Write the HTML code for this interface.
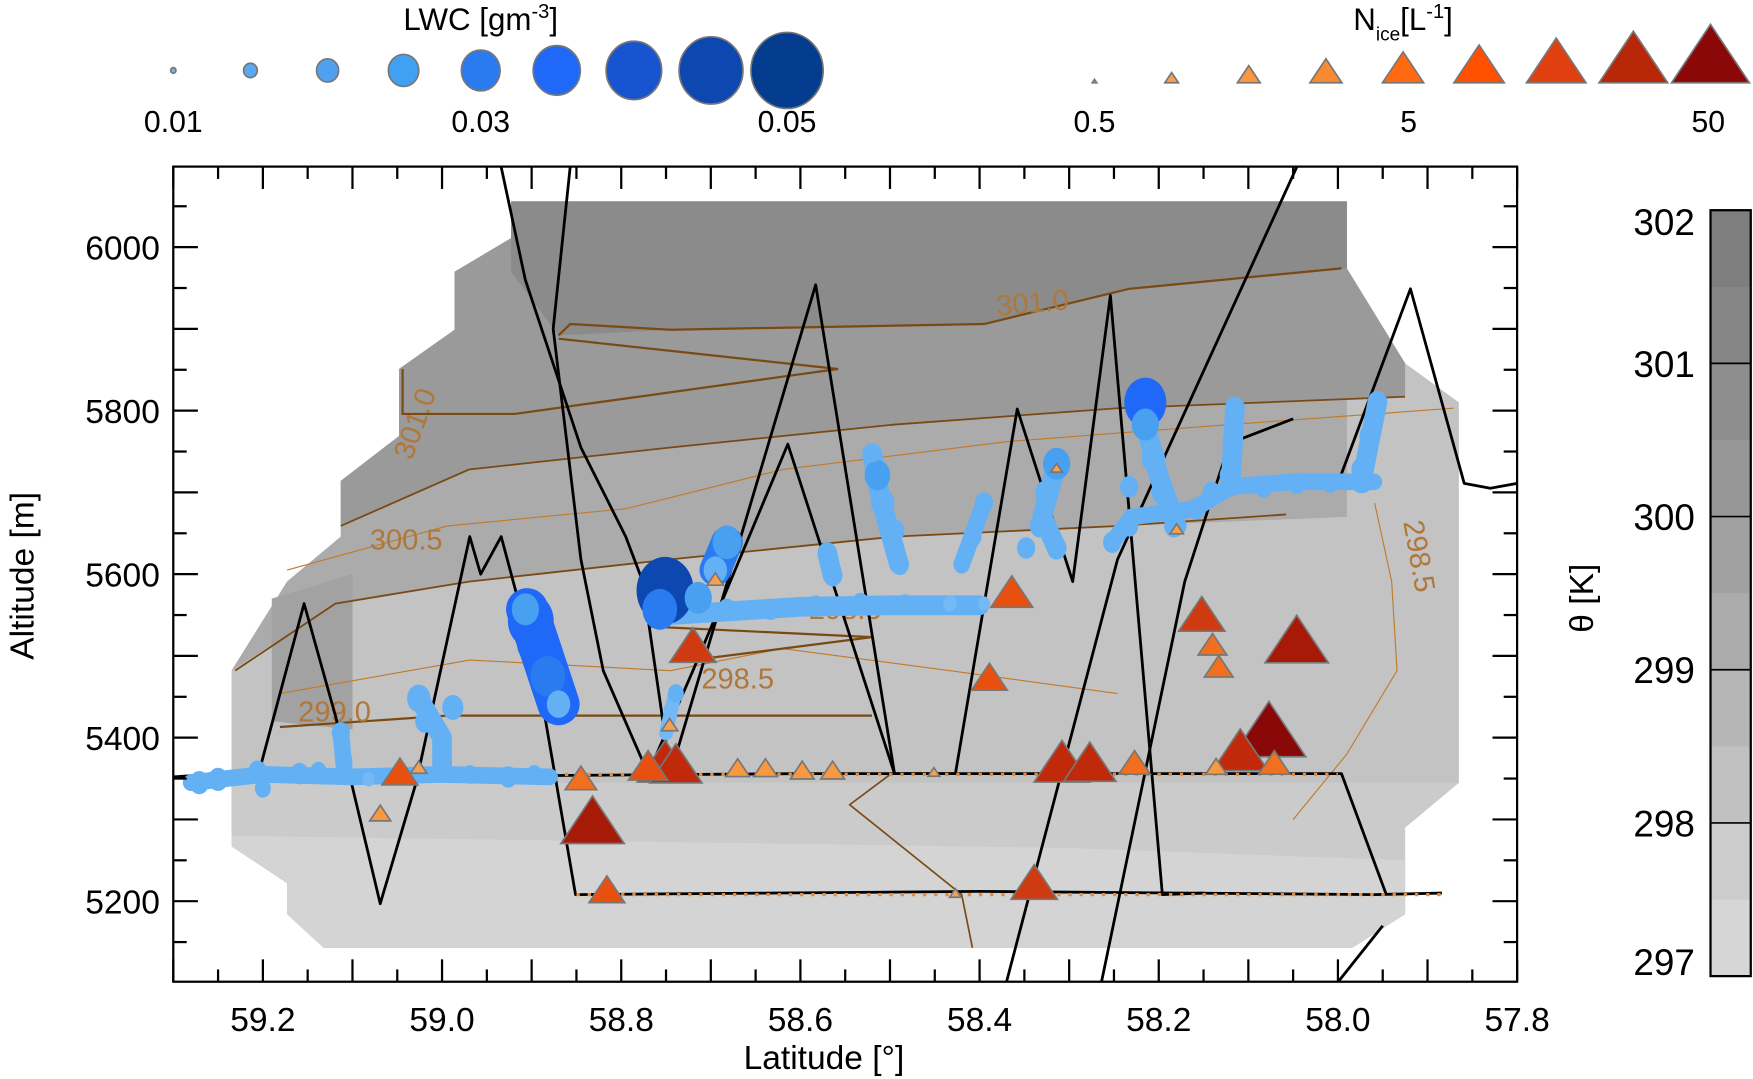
<!DOCTYPE html>
<html><head><meta charset="utf-8"><style>
html,body{margin:0;padding:0;background:#fff;}
svg{display:block;font-family:"Liberation Sans",sans-serif;}
</style></head><body>
<svg id="chart" width="1753" height="1079" viewBox="0 0 1568 965" preserveAspectRatio="none" xmlns="http://www.w3.org/2000/svg">
<g id="bg"></g>
<g id="contours"></g>
<g id="tracks"></g>
<g id="circles"></g>
<g id="tris"></g>
<g id="axes"></g>
<g id="legend"></g>
<g id="cbar"></g>
</svg>
<script>
// ---- data ----
const latTicks=[59.2,59.0,58.8,58.6,58.4,58.2,58.0,57.8];
const altTicks=[5200,5400,5600,5800,6000];
const cbLevels=[302,301,300,299,298,297];
const cbColors=['#7e7e7e','#868686','#8e8e8e','#979797','#a1a1a1','#ababab','#b6b6b6','#c1c1c1','#cccccc','#d6d6d6'];
const lwcLegend=[0.01,0.015,0.02,0.025,0.03,0.035,0.04,0.045,0.05];
const lwcLegendLabels=['0.01','0.03','0.05'];
const niceLegend=[0.5,0.9,1.6,2.8,5,9,16,28,50];
const niceLegendLabels=['0.5','5','50'];

const domainLat=[59.235,59.235,59.173,59.173,59.132,57.984,57.925,57.925,57.865,57.865,57.925,57.990,57.990,58.923,58.923,58.986,58.986,59.048,59.048,59.113,59.113,59.173,59.235];
const domainAlt=[5475,5267,5222,5184,5143,5143,5184,5290,5345,5810,5858,5974,6056,6056,6011,5970,5899,5851,5769,5714,5646,5591,5482];
const lowLat=[59.235,57.865,57.925,57.925,57.984,59.132,59.173,59.173,59.235];
const lowAlt=[5345,5345,5290,5184,5143,5143,5184,5222,5267];
const lowestLat=[59.235,58.60,58.30,57.925,57.925,57.984,59.132,59.173,59.173,59.235];
const lowestAlt=[5280,5270,5265,5250,5184,5143,5143,5184,5222,5267];
const up1Lat=[59.235,59.119,58.969,58.745,58.495,58.246,57.99,57.99,57.925,57.990,57.990,58.923,58.923,58.986,58.986,59.048,59.048,59.113,59.113,59.173];
const up1Alt=[5482,5564,5591,5618,5646,5659,5670,5820,5858,5974,6056,6056,6011,5970,5899,5851,5769,5714,5646,5591];
const up2Lat=[59.113,58.970,58.745,58.495,58.246,57.925,57.925,57.990,57.990,58.923,58.923,58.986,58.986,59.048,59.048,59.113];
const up2Alt=[5659,5728,5755,5783,5803,5817,5858,5974,6056,6056,6011,5970,5899,5851,5769,5714];
const up3Lat=[58.923,58.870,58.745,58.395,58.233,57.990,57.990,58.923];
const up3Alt=[5970,5892,5899,5906,5949,5974,6056,6056];
const leftDarkLat=[59.19,59.10,59.10,59.19];
const leftDarkAlt=[5570,5600,5410,5420];

const contourSets=[
 {lat:[58.870,58.857,58.745,58.395,58.233,57.996],alt:[5892,5906,5899,5906,5949,5974],c:'#7a4a14',w:2},
 {lat:[58.870,58.558,58.919,59.044,59.044],alt:[5888,5851,5796,5796,5851],c:'#7a4a14',w:2},
 {lat:[59.113,58.970,58.745,58.495,58.246,57.925],alt:[5659,5728,5755,5783,5803,5817],c:'#7a4a14',w:1.6},
 {lat:[59.173,58.994,58.795,58.620,58.370,58.121,57.871],alt:[5605,5659,5680,5728,5762,5783,5803],c:'#c07a28',w:1},
 {lat:[59.231,59.119,58.969,58.745,58.495,58.246,58.058],alt:[5482,5564,5591,5618,5646,5659,5673],c:'#7a4a14',w:1.6},
 {lat:[59.181,58.969,58.745,58.620,58.433,58.246],alt:[5454,5495,5482,5509,5482,5454],c:'#c07a28',w:1},
 {lat:[58.770,58.520,58.720],alt:[5536,5523,5495],c:'#7a4a14',w:2},
 {lat:[59.181,58.994,58.870,58.520],alt:[5413,5427,5427,5427],c:'#7a4a14',w:2},
 {lat:[58.495,58.545,58.420,58.408],alt:[5359,5318,5208,5143],c:'#7a4a14',w:1.5},
 {lat:[57.959,57.940,57.934,57.99,58.05],alt:[5687,5591,5482,5380,5300],c:'#c07a28',w:1}
];
const contourLabels=[
 {t:'301.0',lat:58.34,alt:5920,r:-5},{t:'301.0',lat:59.02,alt:5780,r:-70},
 {t:'300.5',lat:59.04,alt:5630,r:0},{t:'298.5',lat:58.67,alt:5460,r:0},
 {t:'298.5',lat:57.92,alt:5620,r:80},{t:'299.0',lat:59.12,alt:5420,r:0},{t:'298.5',lat:58.55,alt:5545,r:0}
];

const track1Lat=[59.30,59.204,59.154,59.119,59.069,59.029,58.969,58.957,58.934,58.894,58.851,58.40,57.959,57.884];
const track1Alt=[5352,5359,5564,5427,5197,5345,5646,5600,5646,5482,5208,5212,5208,5210];
const track2Lat=[59.069,58.60,58.00,57.996,57.946];
const track2Alt=[5352,5356,5356,5356,5208];
const track3Lat=[58.934,58.907,58.845,58.795,58.776,58.745,58.583,58.495,58.427,58.358,58.296,58.254,58.196,58.15];
const track3Alt=[6098,5960,5755,5646,5591,5356,5954,5356,5356,5802,5591,5941,5208,5210];
const track4Lat=[58.857,58.876,58.845,58.820,58.770,58.720,58.614,58.495];
const track4Alt=[6098,5900,5618,5482,5356,5482,5759,5356];
const track5Lat=[58.370,58.246,58.046];
const track5Alt=[5101,5618,6098];
const track6Lat=[58.264,58.171,58.121,58.05];
const track6Alt=[5101,5591,5760,5790];
const track7Lat=[58.00,57.919,57.859,57.83,57.80];
const track7Alt=[5711,5949,5711,5705,5711];
const track8Lat=[58.0,57.95];
const track8Alt=[5101,5170];

// cloud trails (measured LWC segments): lat, alt, lwc
const trails=[
 {lat:[59.28,59.20,59.10,59.00,58.88],alt:[5345,5355,5352,5355,5352],lwc:0.018},
 {lat:[58.745,58.60,58.50,58.40],alt:[5550,5560,5562,5562],lwc:0.02},
 {lat:[58.12,58.05,57.96],alt:[5707,5713,5713],lwc:0.018},
 {lat:[58.52,58.51,58.49],alt:[5748,5690,5612],lwc:0.02},
 {lat:[58.395,58.42],alt:[5687,5612],lwc:0.018},
 {lat:[58.314,58.33,58.314],alt:[5735,5670,5632],lwc:0.02},
 {lat:[58.215,58.20,58.18],alt:[5783,5720,5659],lwc:0.02},
 {lat:[58.252,58.23,58.16,58.12],alt:[5639,5670,5680,5707],lwc:0.018},
 {lat:[58.115,58.12],alt:[5803,5707],lwc:0.02},
 {lat:[57.956,57.974],alt:[5810,5711],lwc:0.02},
 {lat:[59.113,59.109],alt:[5406,5360],lwc:0.018},
 {lat:[59.026,59.0,59.0],alt:[5448,5400,5360],lwc:0.02},
 {lat:[58.905,58.87],alt:[5557,5441],lwc:0.035},
 {lat:[58.74,58.75],alt:[5454,5405],lwc:0.016},
 {lat:[58.695,58.682],alt:[5605,5639],lwc:0.028},
 {lat:[58.57,58.564],alt:[5625,5598],lwc:0.02}
];

const cLat=[59.271,59.250,59.206,59.200,59.159,59.138,59.113,59.109,59.082,59.026,58.988,59.019,59.001,59.001,58.969,58.926,58.897,58.907,58.901,58.895,58.882,58.870,58.751,58.757,58.714,58.682,58.695,58.682,58.633,58.583,58.533,58.483,58.433,58.395,58.739,58.745,58.570,58.564,58.520,58.514,58.508,58.495,58.489,58.395,58.408,58.420,58.314,58.327,58.333,58.314,58.348,58.215,58.215,58.206,58.196,58.183,58.233,58.252,58.233,58.158,58.141,58.115,58.118,58.121,58.083,58.046,58.009,57.971,57.956,57.965,57.974];
const cAlt=[5345,5349,5359,5338,5356,5359,5406,5372,5349,5448,5437,5420,5393,5359,5355,5352,5355,5557,5543,5516,5475,5441,5580,5557,5571,5639,5605,5557,5557,5561,5564,5564,5564,5564,5454,5434,5625,5598,5748,5721,5687,5653,5612,5687,5646,5612,5735,5700,5659,5632,5632,5810,5783,5741,5700,5659,5707,5639,5659,5680,5700,5803,5762,5721,5707,5711,5711,5711,5810,5769,5728];
const cLwc=[0.020,0.020,0.019,0.0175,0.019,0.0175,0.019,0.0175,0.015,0.0225,0.021,0.020,0.0175,0.019,0.0175,0.019,0.0175,0.025,0.0375,0.0325,0.030,0.0225,0.045,0.030,0.025,0.026,0.0225,0.019,0.019,0.019,0.019,0.0175,0.016,0.015,0.0175,0.016,0.020,0.019,0.0175,0.024,0.0225,0.020,0.019,0.019,0.019,0.0175,0.025,0.020,0.020,0.020,0.019,0.035,0.025,0.0225,0.021,0.020,0.019,0.019,0.019,0.019,0.019,0.020,0.020,0.020,0.019,0.019,0.0175,0.0175,0.020,0.020,0.020];

const tLat=[59.047,59.026,58.845,58.832,58.816,58.720,58.751,58.739,58.770,58.670,58.639,58.598,58.564,58.364,58.389,58.308,58.277,58.227,58.314,58.152,58.140,58.133,58.046,58.077,58.109,58.071,58.339,58.136,58.180,58.695,58.451,58.427,58.746,59.069];
const tAlt=[5352,5361,5345,5288,5208,5505,5361,5359,5359,5359,5359,5356,5356,5571,5468,5361,5361,5364,5728,5543,5509,5482,5509,5397,5375,5364,5215,5361,5653,5591,5356,5208,5413,5304];
const tNice=[4,1.1,3,25,4,8,15,12,5,1.8,1.8,1.8,1.8,6,4,15,12,3,0.8,8,2.5,2.5,25,50,15,3,8,1.5,0.9,1.1,0.8,0.8,1.1,1.5];

// ---- scales ----
const L=155,R=1357,T=149,B=878;
function X(lat){return L+(59.3-lat)/1.5*(R-L);}
function Y(alt){return B-(alt-5101.5)/(6098.5-5101.5)*(B-T);}
const NS='http://www.w3.org/2000/svg';
function mk(tag,parent,attrs){const e=document.createElementNS(NS,tag);for(const k in attrs)e.setAttribute(k,attrs[k]);parent.appendChild(e);return e;}
function pts(la,al){return la.map((v,i)=>X(v).toFixed(1)+','+Y(al[i]).toFixed(1)).join(' ');}
const svg=document.getElementById('chart');
const defs=mk('defs',svg,{});
const cp=mk('clipPath',defs,{id:'clip'});
mk('rect',cp,{x:L,y:T,width:R-L,height:B-T});
['bg','contours','tracks','circles','tris'].forEach(id=>document.getElementById(id).setAttribute('clip-path','url(#clip)'));

const bg=document.getElementById('bg');
[['domain','#c3c3c3',domainLat,domainAlt],['band-low','#cbcbcb',lowLat,lowAlt],['band-lowest','#d4d4d4',lowestLat,lowestAlt],
 ['band-up1','#ababab',up1Lat,up1Alt],['band-up2','#9a9a9a',up2Lat,up2Alt],['band-up3','#8b8b8b',up3Lat,up3Alt],['band-left-dark','#a2a2a2',leftDarkLat,leftDarkAlt]].forEach(b=>{
 const p=mk('polygon',bg,{points:pts(b[2],b[3]),fill:b[1]});
 
 
});
const cg=document.getElementById('contours');
contourSets.forEach(c=>{
 const p=mk('polyline',cg,{points:pts(c.lat,c.alt),fill:'none',stroke:c.c,'stroke-width':c.w});
 
 
});
contourLabels.forEach(c=>{
 const t=mk('text',cg,{x:X(c.lat),y:Y(c.alt),'font-size':26,fill:'#b0773a','text-anchor':'middle',transform:`rotate(${c.r} ${X(c.lat)} ${Y(c.alt)})`});
 t.textContent=c.t;
 
 
});
const tg=document.getElementById('tracks');
[[track1Lat,track1Alt],[track2Lat,track2Alt],[track3Lat,track3Alt],[track4Lat,track4Alt],[track5Lat,track5Alt],[track6Lat,track6Alt],[track7Lat,track7Alt],[track8Lat,track8Alt]].forEach(t=>{
 const p=mk('polyline',tg,{points:pts(t[0],t[1]),fill:'none',stroke:'#000','stroke-width':2.5,'stroke-linejoin':'round'});
 
 
});
[[[59.05,58.0],[5355,5355]],[[58.85,57.88],[5208,5208]]].forEach(t=>{
 const p=mk('polyline',tg,{points:pts(t[0],t[1]),fill:'none',stroke:'#f08a30','stroke-width':3,'stroke-dasharray':'3 7'});
 
 
});
const blues=['#80bcf4','#74b8f6','#64b0f4','#48a0f0','#2a7af0','#2068f8','#1854d0','#0c48b0','#043c90'];
function lwcR(v){return 2.5+(v-0.01)/0.04*31.5;}
function lwcC(v){let i=Math.round((v-0.01)/0.005);i=Math.max(0,Math.min(8,i));return blues[i];}
const reds=['#ffb060','#f8a050','#f89840','#f07020','#e85010','#d03a10','#c02a0a','#a81a08','#8a0808'];
function nH(v){const l=Math.log10(v);return 2+(l+0.301)/2*31;}
function nC(v){let i=Math.round((Math.log10(v)+0.301)/2*8);i=Math.max(0,Math.min(8,i));return reds[i];}
const cc=document.getElementById('circles');
trails.forEach(t=>{
 const p=mk('polyline',cc,{points:pts(t.lat,t.alt),fill:'none',stroke:lwcC(t.lwc),'stroke-width':lwcR(t.lwc)*1.7,'stroke-linecap':'round','stroke-linejoin':'round'});
 
 
});
const order=cLat.map((_,i)=>i).sort((a,b)=>cLwc[b]-cLwc[a]);
order.forEach(i=>{
 const r=lwcR(cLwc[i]);
 const e=mk('ellipse',cc,{cx:X(cLat[i]),cy:Y(cAlt[i]),rx:r*0.85,ry:r,fill:lwcC(cLwc[i])});
 
 
});
const trg=document.getElementById('tris');
tLat.forEach((la,i)=>{
 const h=nH(tNice[i]),x=X(la),y=Y(tAlt[i]);
 const p=mk('polygon',trg,{points:`${x-h},${y+h*0.45} ${x+h},${y+h*0.45} ${x},${y-h*1.05}`,fill:nC(tNice[i]),stroke:'#777','stroke-width':1.5});
 
 
});
const ax=document.getElementById('axes');
const frame=mk('rect',ax,{x:L,y:T,width:R-L,height:B-T,fill:'none',stroke:'#000','stroke-width':2});


for(let k=0;k<=30;k++){const lat=59.3-k*0.05;const x=X(lat);const len=(k%2==0)?20:11;
 mk('line',ax,{x1:x,y1:B,x2:x,y2:B-len,stroke:'#000','stroke-width':2});
 mk('line',ax,{x1:x,y1:T,x2:x,y2:T+len,stroke:'#000','stroke-width':2});}
for(let a=5150;a<=6050;a+=50){const y=Y(a);const len=(a%100==0)?22:12;
 mk('line',ax,{x1:L,y1:y,x2:L+len,y2:y,stroke:'#000','stroke-width':2});
 mk('line',ax,{x1:R,y1:y,x2:R-len,y2:y,stroke:'#000','stroke-width':2});}
latTicks.forEach(v=>{const t=mk('text',ax,{x:X(v),y:922,'font-size':30,'text-anchor':'middle'});t.textContent=v.toFixed(1);
 
 });
altTicks.forEach(v=>{const t=mk('text',ax,{x:143,y:Y(v)+11,'font-size':30,'text-anchor':'end'});t.textContent=v;
 
 });
const xt=mk('text',ax,{x:737,y:956,'font-size':30,'text-anchor':'middle'});xt.textContent='Latitude [°]';


const yt=mk('text',ax,{x:30,y:515,'font-size':30,'text-anchor':'middle',transform:'rotate(-90 30 515)'});yt.textContent='Altitude [m]';


const lg=document.getElementById('legend');
const lx=[155,224,293,361,430,498,567,636,704];
lwcLegend.forEach((v,i)=>{const r=lwcR(v);const e=mk('ellipse',lg,{cx:lx[i],cy:63,rx:r*0.95,ry:r,fill:['#7ab0e0','#5aa8f0','#50a0f0','#40a0f2','#2a7af0','#2068f8','#1854d0','#0c48b0','#043c90'][i],stroke:'#777','stroke-width':1.5});
 
 });
[[155,0],[430,1],[704,2]].forEach(p=>{const t=mk('text',lg,{x:p[0],y:118,'font-size':27,'text-anchor':'middle'});t.textContent=lwcLegendLabels[p[1]];
 
 });
const lt=mk('text',lg,{x:430,y:27,'font-size':28,'text-anchor':'middle'});lt.innerHTML='LWC [gm<tspan dy="-11" font-size="18">-3</tspan><tspan dy="11">]</tspan>';


const nx=[979,1048,1117,1186,1255,1323,1392,1461,1530];
niceLegend.forEach((v,i)=>{const h=2+i*4.1;const x=nx[i],yb=74;
 const p=mk('polygon',lg,{points:`${x-h},${yb} ${x+h},${yb} ${x},${yb-h*1.5}`,fill:['#ffb060','#f8a050','#f89840','#f88a30','#ff6a10','#ff5000','#e04010','#b82808','#8a0808'][i],stroke:'#777','stroke-width':1.5});
 
 });
[[979,0],[1260,1],[1528,2]].forEach(p=>{const t=mk('text',lg,{x:p[0],y:118,'font-size':27,'text-anchor':'middle'});t.textContent=niceLegendLabels[p[1]];
 
 });
const nt=mk('text',lg,{x:1255,y:27,'font-size':28,'text-anchor':'middle'});nt.innerHTML='N<tspan dy="9" font-size="17">ice</tspan><tspan dy="-9">[L</tspan><tspan dy="-11" font-size="18">-1</tspan><tspan dy="11">]</tspan>';


const cb=document.getElementById('cbar');
const cT=188,cB=873,cL=1530,cW=36;
cbColors.forEach((c,i)=>{const h=(cB-cT)/10;const r=mk('rect',cb,{x:cL,y:cT+i*h,width:cW,height:h+0.5,fill:c});
 
 });
cbLevels.forEach((v,i)=>{const y=cT+i*(cB-cT)/5;
 mk('line',cb,{x1:cL,y1:y,x2:cL+cW,y2:y,stroke:'#000','stroke-width':1.5});
 const t=mk('text',cb,{x:1516,y:(i==0?y+22:(i==5?y-1:y+12)),'font-size':33,'text-anchor':'end'});t.textContent=v;
 
 });
mk('rect',cb,{x:cL,y:cT,width:cW,height:cB-cT,fill:'none',stroke:'#000','stroke-width':2});
const ct=mk('text',cb,{x:1425,y:535,'font-size':30,'text-anchor':'middle',transform:'rotate(-90 1425 535)'});ct.textContent='θ [K]';


</script>
</body></html>
